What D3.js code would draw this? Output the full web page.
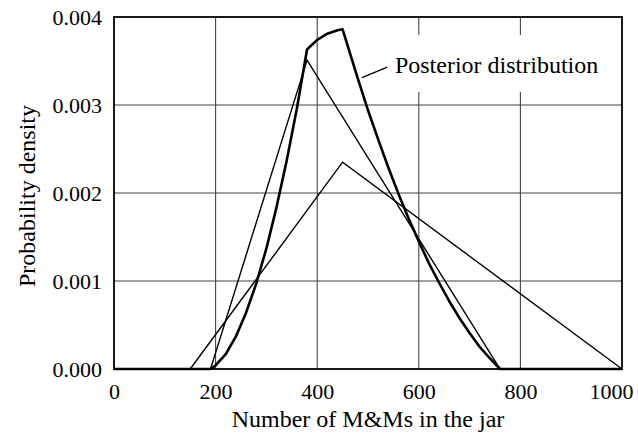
<!DOCTYPE html>
<html>
<head>
<meta charset="utf-8">
<script src="https://cdn.jsdelivr.net/npm/d3@7"></script>
<style>
  html, body { margin: 0; padding: 0; background: #fff; }
  svg { display: block; }
</style>
</head>
<body>
<div id="chart"></div>
<script>
// ---- data ----
const xTicks = [0, 200, 400, 600, 800, 1000];
const yTicks = [0.000, 0.001, 0.002, 0.003, 0.004];

// narrow triangular distribution
const triNarrowX = [0, 190, 380, 760, 1000];
const triNarrowY = [0, 0, 0.00351, 0, 0];

// wide triangular distribution
const triWideX = [0, 150, 450, 1000];
const triWideY = [0, 0, 0.00235, 0];

// posterior distribution
const postX = [0, 190, 200, 220, 240, 260, 280, 300, 320, 340, 360, 380,
               400, 420, 440, 450, 480, 500, 520, 540, 560, 580, 600, 620,
               640, 660, 680, 700, 720, 740, 760, 1000];
const postY = [0, 0, 0.00004, 0.00017, 0.00037, 0.00064, 0.00097, 0.00137, 0.00184, 0.00237, 0.00296, 0.00363,
               0.00374, 0.00381, 0.00385, 0.00386, 0.00330, 0.00294, 0.00261, 0.00229, 0.00199, 0.00171, 0.00145, 0.00120,
               0.00098, 0.00077, 0.00058, 0.00041, 0.00025, 0.00012, 0, 0];

const labelText = "Posterior distribution";
const xTitle = "Number of M&Ms in the jar";
const yTitle = "Probability density";

// ---- layout ----
const FONT = "Liberation Serif";
const W = 638, H = 436;
const M = { left: 114, right: 16, top: 17, bottom: 67 };
const iw = W - M.left - M.right, ih = H - M.top - M.bottom;

const svg = d3.select("#chart").append("svg").attr("width", W).attr("height", H)
  .attr("font-family", FONT);
const g = svg.append("g").attr("transform", `translate(${M.left},${M.top})`);

const x = d3.scaleLinear().domain([0, 1000]).range([0, iw]);
const y = d3.scaleLinear().domain([0, 0.004]).range([ih, 0]);

// grid
const gridColor = "#444";
g.append("g").selectAll("line").data(xTicks.slice(1, -1)).join("line")
  .attr("x1", d => x(d)).attr("x2", d => x(d)).attr("y1", 0).attr("y2", ih)
  .attr("stroke", gridColor).attr("stroke-width", 1.1);
g.append("g").selectAll("line").data(yTicks.slice(1, -1)).join("line")
  .attr("x1", 0).attr("x2", iw).attr("y1", d => y(d)).attr("y2", d => y(d))
  .attr("stroke", gridColor).attr("stroke-width", 1.1);

// axes (labels only, no tick marks)
const xAxis = g.append("g").attr("transform", `translate(0,${ih})`)
  .call(d3.axisBottom(x).tickValues(xTicks).tickFormat(d3.format("d")).tickSize(0).tickPadding(14));
const yAxis = g.append("g")
  .call(d3.axisLeft(y).tickValues(yTicks).tickFormat(d3.format(".3f")).tickSize(0).tickPadding(12));
[xAxis, yAxis].forEach(a => {
  a.attr("font-family", FONT).attr("font-size", 22);
  a.select(".domain").remove();
  a.selectAll("text").attr("font-family", FONT).attr("font-size", 22).attr("fill", "#000");
});
// keep the last x label inside the picture, as in the reference
xAxis.selectAll(".tick").filter(d => d === 1000).select("text")
  .attr("text-anchor", "end").attr("x", 11);

// lines
const line = d3.line().x(d => x(d[0])).y(d => y(d[1]));
const zip = (xs, ys) => xs.map((v, i) => [v, ys[i]]);

g.append("path").datum(zip(triWideX, triWideY)).attr("d", line)
  .attr("fill", "none").attr("stroke", "#000").attr("stroke-width", 1.4).attr("stroke-linejoin", "miter");
g.append("path").datum(zip(triNarrowX, triNarrowY)).attr("d", line)
  .attr("fill", "none").attr("stroke", "#000").attr("stroke-width", 1.4).attr("stroke-linejoin", "miter");
g.append("path").datum(zip(postX, postY)).attr("d", line)
  .attr("fill", "none").attr("stroke", "#000").attr("stroke-width", 2.6).attr("stroke-linejoin", "round");

// label with white background and leader line
g.append("rect").attr("x", x(542)).attr("y", 18).attr("width", x(965) - x(542)).attr("height", 57)
  .attr("fill", "#fff");
g.append("text").attr("x", x(553)).attr("y", 56).attr("font-family", FONT).attr("font-size", 24)
  .attr("fill", "#000").text(labelText);
g.append("line")
  .attr("x1", x(488)).attr("y1", y(0.00331))
  .attr("x2", x(538)).attr("y2", y(0.00343))
  .attr("stroke", "#000").attr("stroke-width", 1.3);

// frame
g.append("rect").attr("x", 0).attr("y", 0).attr("width", iw).attr("height", ih)
  .attr("fill", "none").attr("stroke", "#000").attr("stroke-width", 1.8);

// titles
svg.append("text").attr("x", M.left + iw / 2).attr("y", 427).attr("text-anchor", "middle")
  .attr("font-family", FONT).attr("font-size", 24).attr("fill", "#000").text(xTitle);
svg.append("text").attr("transform", `translate(35,${M.top + ih / 2 + 3}) rotate(-90)`)
  .attr("text-anchor", "middle").attr("font-family", FONT).attr("font-size", 24)
  .attr("fill", "#000").text(yTitle);
</script>
</body>
</html>
